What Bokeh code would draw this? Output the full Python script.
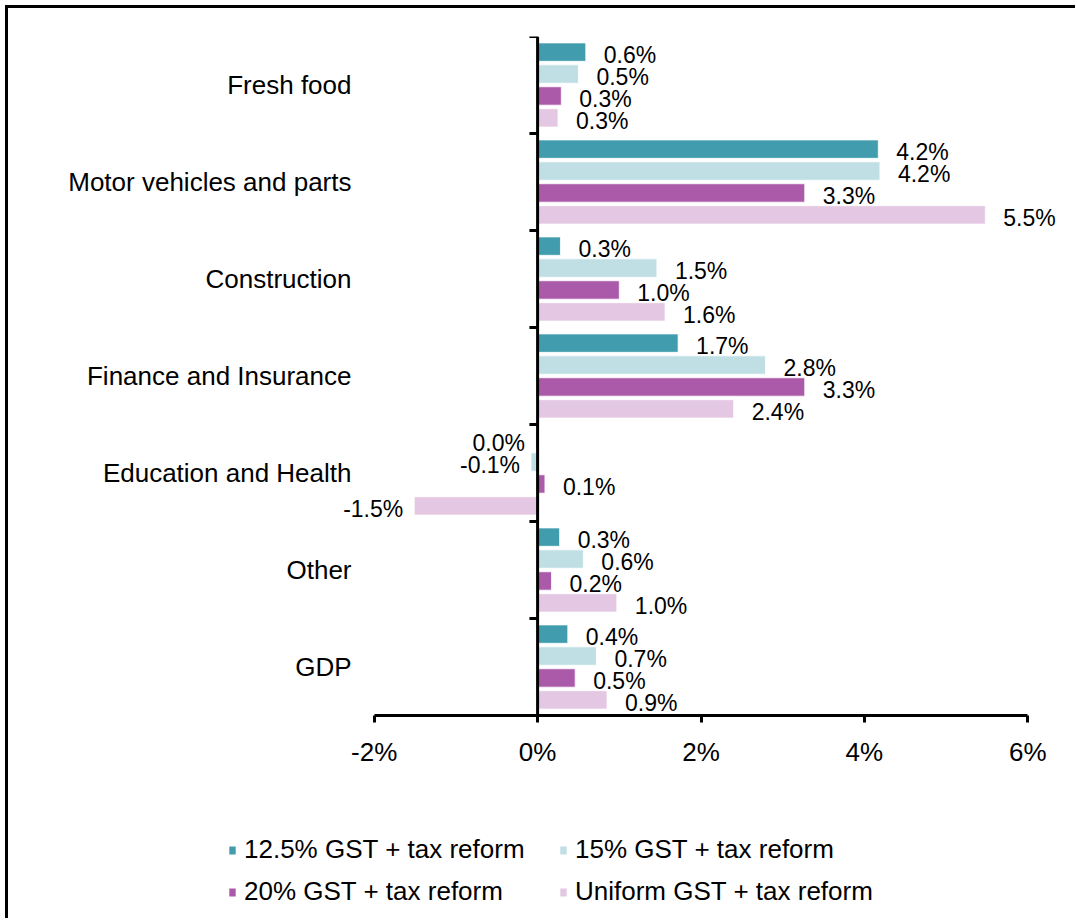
from bokeh.plotting import figure
from bokeh.layouts import column
from bokeh.models import (ColumnDataSource, FactorRange, Range1d, LabelSet, Legend, LegendItem,
                          FixedTicker, PrintfTickFormatter)
from bokeh.core.properties import value
from bokeh.transform import dodge
from bokeh.embed import file_html
from bokeh.resources import INLINE

categories = ["Fresh food", "Motor vehicles and parts", "Construction", "Finance and Insurance",
              "Education and Health", "Other", "GDP"]
series_names = ["12.5% GST + tax reform", "15% GST + tax reform",
                "20% GST + tax reform", "Uniform GST + tax reform"]
gst_125 = [0.59, 4.17, 0.28, 1.72, -0.02, 0.27, 0.37]
gst_15 = [0.50, 4.19, 1.46, 2.79, -0.08, 0.56, 0.72]
gst_20 = [0.29, 3.27, 1.00, 3.27, 0.09, 0.17, 0.46]
gst_uniform = [0.25, 5.48, 1.56, 2.40, -1.51, 0.97, 0.85]
labels_125 = ["0.6%", "4.2%", "0.3%", "1.7%", "0.0%", "0.3%", "0.4%"]
labels_15 = ["0.5%", "4.2%", "1.5%", "2.8%", "-0.1%", "0.6%", "0.7%"]
labels_20 = ["0.3%", "3.3%", "1.0%", "3.3%", "0.1%", "0.2%", "0.5%"]
labels_uniform = ["0.3%", "5.5%", "1.6%", "2.4%", "-1.5%", "1.0%", "0.9%"]
x_ticks = [-2, 0, 2, 4, 6]

colors = ["#419DAE", "#BFDFE4", "#AA5AA8", "#E4C8E3"]
offsets = [0.339, 0.113, -0.113, -0.339]
series_vals = [gst_125, gst_15, gst_20, gst_uniform]
series_labels = [labels_125, labels_15, labels_20, labels_uniform]

FONT = "Liberation Sans"
W, H1, H2 = 1075, 790, 128

p = figure(width=W, height=H1, output_backend="svg", toolbar_location=None,
           y_range=FactorRange(factors=list(reversed(categories))),
           x_range=Range1d(x_ticks[0] - 0.4, x_ticks[-1] + 0.4),
           min_border_left=341, min_border_right=15, min_border_top=36, min_border_bottom=H1 - 715)
p.frame_align = False
p.outline_line_color = None
p.xgrid.visible = False
p.ygrid.visible = False
p.background_fill_color = "white"
p.border_fill_alpha = 0

for name, vals, labs, col, off in zip(series_names, series_vals, series_labels, colors, offsets):
    src = ColumnDataSource(dict(cat=categories, val=vals, lab=labs))
    p.hbar(y=dodge("cat", off, range=p.y_range), left=0, right="val", height=0.19,
           fill_color=col, line_color="white", line_width=0.8, source=src)
    pos = ColumnDataSource(dict(cat=[c for c, v in zip(categories, vals) if v >= 0],
                                val=[v for v in vals if v >= 0],
                                lab=[l for l, v in zip(labs, vals) if v >= 0]))
    neg = ColumnDataSource(dict(cat=[c for c, v in zip(categories, vals) if v < 0],
                                val=[v for v in vals if v < 0],
                                lab=[l for l, v in zip(labs, vals) if v < 0]))
    for s, align, xo in ((pos, "left", 18), (neg, "right", -11)):
        p.add_layout(LabelSet(x="val", y=dodge("cat", off, range=p.y_range), text="lab", source=s,
                              x_offset=xo, y_offset=-3, text_align=align, text_baseline="middle",
                              text_font=value(FONT), text_font_size="23px", text_color="black"))

# vertical zero axis with category-boundary ticks
n = len(categories)
p.segment(x0=0, y0=0, x1=0, y1=n, line_color="black", line_width=3)
p.segment(x0=[-0.1] * (n + 1), y0=list(range(n + 1)), x1=[0] * (n + 1), y1=list(range(n + 1)),
          line_color="black", line_width=3)

# x axis
xa = p.xaxis[0]
xa.ticker = FixedTicker(ticks=x_ticks)
xa.bounds = (x_ticks[0], x_ticks[-1])
xa.formatter = PrintfTickFormatter(format="%d%%")
xa.axis_line_width = 3
xa.axis_line_color = "black"
xa.major_tick_line_width = 3
xa.major_tick_line_color = "black"
xa.major_tick_in = 0
xa.major_tick_out = 7
xa.minor_tick_line_color = None
xa.major_label_text_font = FONT
xa.major_label_text_font_size = "26px"
xa.major_label_text_color = "black"
xa.major_label_standoff = 14

ya = p.yaxis[0]
ya.axis_line_color = None
ya.major_tick_line_color = None
ya.major_tick_in = 0
ya.major_tick_out = 0
ya.minor_tick_line_color = None
ya.major_label_standoff = -10
ya.major_label_text_font = FONT
ya.major_label_text_font_size = "26px"
ya.major_label_text_color = "black"

# legend panel (second figure below the chart)
p2 = figure(width=W, height=H2, output_backend="svg", toolbar_location=None,
            x_range=Range1d(0, 1), y_range=Range1d(0, 1), x_axis_type=None, y_axis_type=None,
            min_border_left=0, min_border_right=0, min_border_top=0, min_border_bottom=0)
p2.frame_align = False
p2.outline_line_color = None
p2.xgrid.visible = False
p2.ygrid.visible = False
p2.background_fill_alpha = 0
p2.border_fill_alpha = 0
items = []
for name, col in zip(series_names, colors):
    # placeholder renderer outside the view, used only for the legend swatch
    r = p2.hbar(y=[-5], left=[0], right=[0], height=0.19, fill_color=col, line_color=None)
    items.append(LegendItem(label=name, renderers=[r]))

legend = Legend(items=items, location=(228, 11), orientation="horizontal", ncols=2,
                glyph_width=8, glyph_height=10, label_standoff=8, spacing=11, label_width=304,
                padding=0, margin=0,
                label_text_font=FONT, label_text_font_size="26px", label_text_color="black",
                border_line_color=None, background_fill_alpha=0)
p2.add_layout(legend, "center")

layout = column(p, p2, spacing=0,
                styles={"background": "linear-gradient(#000,#000) 5px 5px / 3000px 3px no-repeat, "
                                      "linear-gradient(#000,#000) 5px 5px / 3px 3000px no-repeat, white"})

open("out.html", "w").write(file_html(layout, INLINE))
